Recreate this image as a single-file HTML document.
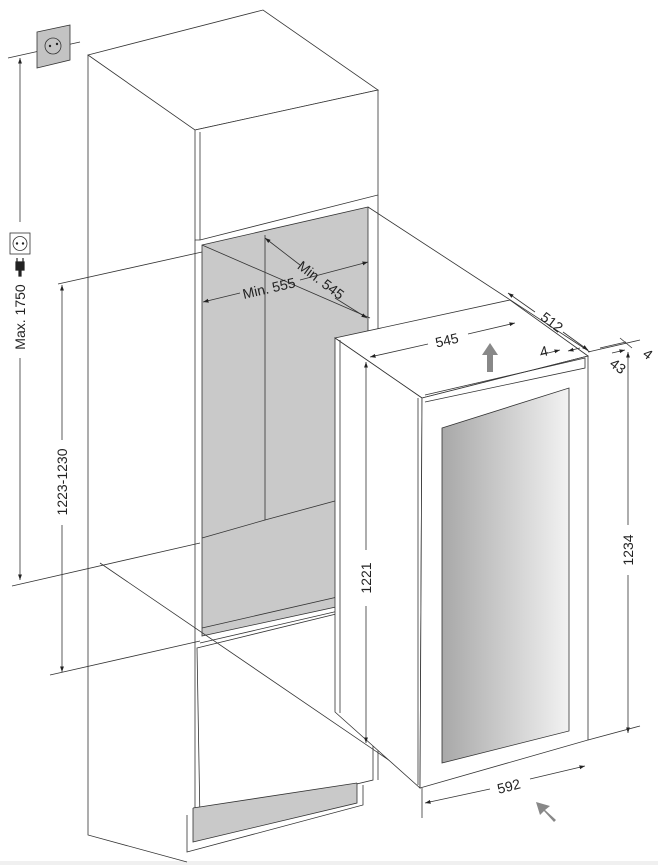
<!DOCTYPE html>
<html><head><meta charset="utf-8"><style>
html,body{margin:0;padding:0;background:#fff;}
svg{display:block;}
text{font-family:"Liberation Sans",sans-serif;font-size:14px;fill:#222;}
</style></head><body>
<svg width="658" height="865" viewBox="0 0 658 865" xmlns="http://www.w3.org/2000/svg">
<defs>
<marker id="a" viewBox="0 0 10 10" refX="10" refY="5" markerWidth="7" markerHeight="7" orient="auto-start-reverse"><path d="M0,1.5 L10,5 L0,8.5 z" fill="#222"/></marker>
<linearGradient id="g" x1="0" x2="1" y1="0" y2="0"><stop offset="0" stop-color="#a8a8a8"/><stop offset="1" stop-color="#f2f2f2"/></linearGradient>
</defs>
<rect x="0" y="861" width="658" height="4" fill="#f0f0f0"/>
<g fill="none" stroke="#333" stroke-width="0.8">
<path d="M88,55 L263,10 L378,90 L195,130 Z" fill="#fff"/>
<path d="M88,55 L88,835 L187,862"/>
<path d="M195,130 L378,90 L378,195 L200,240 L195,240 Z" fill="#fff"/>
<path d="M200,132 L200,240"/>
<path d="M195,240 L195,830"/>
<path d="M378,195 L378,780"/>
<path d="M202,245 L368,207 L368,600 L202,636 Z" fill="#c9c9c9"/>
<path d="M265,235 L265,520 L368,492"/>
<path d="M265,520 L202,538"/>
<path d="M202,628 L368,590"/>
<path d="M200,643 L373,603"/>
<path d="M197,648 L373,605 L373,780 L200,822 Z" fill="#fff"/>
<path d="M193,808 L193,842 L357,803 L357,783" fill="#c9c9c9"/>
<path d="M193,808 L357,783"/>
<path d="M187,815 L187,852 L363,805 L363,785"/>
<path d="M58,284 L202,252"/>
<path d="M12,586 L200,543"/>
<path d="M50,675 L200,641"/>
<path d="M100,563 L418,780"/>
<path d="M202,245 L370,318"/>
<path d="M368,207 L590,352"/>
<path d="M8,58 L80,42"/>
<path d="M37,32 L70,25 L70,60 L37,68 Z" fill="#c3c3c3"/>
<circle cx="53" cy="46" r="8" fill="#c3c3c3"/>
<path d="M335,338 L510,300 L588,356 L422,398 Z" fill="#fff"/>
<path d="M335,338 L335,712 L420,788 L422,398 Z" fill="#fff"/>
<path d="M422,398 L588,356 L588,740 L420,788 Z" fill="#fff"/>
<path d="M425,395 L585,358 L585,368 L425,402"/>
<path d="M418,398 L418,785"/>
<path d="M442,428 L569,388 L569,731 L442,763 Z" fill="url(#g)"/>
<path d="M340,713 L340,340"/>
<path d="M20,58 L20,222" marker-start="url(#a)"/>
<path d="M20,358 L20,580" marker-end="url(#a)"/>
<path d="M62,285 L62,440" marker-start="url(#a)"/>
<path d="M62,525 L62,672" marker-end="url(#a)"/>
<path d="M366,362 L366,550" marker-start="url(#a)"/>
<path d="M366,606 L366,743" marker-end="url(#a)"/>
<path d="M628,352 L628,525" marker-start="url(#a)"/>
<path d="M628,575 L628,733" marker-end="url(#a)"/>
<path d="M588,740 L640,726"/>
<path d="M588,352 L640,340"/>
<path d="M422,788 L422,818"/>
<path d="M425,803 L490,789" marker-start="url(#a)"/>
<path d="M530,779 L585,766" marker-end="url(#a)"/>
<path d="M370,357 L428,344" marker-start="url(#a)"/>
<path d="M468,334 L515,323" marker-end="url(#a)"/>
<path d="M508,293 L535,312" marker-start="url(#a)"/>
<path d="M563,332 L588,350" marker-end="url(#a)"/>
<path d="M203,302 L240,293" marker-start="url(#a)"/>
<path d="M300,280 L368,262" marker-end="url(#a)"/>
<path d="M265,238 L300,265" marker-start="url(#a)"/>
<path d="M335,298 L367,318" marker-end="url(#a)"/>
<path d="M540,355 L560,350" marker-end="url(#a)"/>
<path d="M580,348 L568,351" marker-end="url(#a)"/>
<path d="M600,348 L626,342"/>
<path d="M612,353 L625,350" marker-end="url(#a)"/>
<path d="M620,338 L632,348"/>
</g>
<path d="M487,372 L487,355 L482,355 L490,343 L498,355 L493,355 L493,372 Z" fill="#888"/>
<path d="M556,820 L545,810 L550,806 L536,802 L540,815 L544,811 L554,822 Z" fill="#888"/>
<rect x="10" y="233" width="20" height="21" fill="#fff" stroke="#333" stroke-width="0.8"/>
<circle cx="20" cy="243.5" r="7" fill="none" stroke="#333" stroke-width="0.8"/>
<circle cx="17" cy="243.5" r="1.2" fill="#222"/><circle cx="23" cy="243.5" r="1.2" fill="#222"/>
<path d="M16,262 L24,262 L24,270 L21,270 L21,276 L19,276 L19,270 L16,270 Z M17,258 L17,262 M23,258 L23,262" fill="#222" stroke="#222" stroke-width="1.2"/>
<circle cx="50" cy="46" r="1.2" fill="#222"/><circle cx="57" cy="44" r="1.2" fill="#222"/>
<text transform="translate(25,317) rotate(-90)" text-anchor="middle">Max. 1750</text>
<text transform="translate(67,482) rotate(-90)" text-anchor="middle">1223-1230</text>
<text transform="translate(371,578) rotate(-90)" text-anchor="middle">1221</text>
<text transform="translate(633,550) rotate(-90)" text-anchor="middle">1234</text>
<text transform="translate(510,791) rotate(-14)" text-anchor="middle">592</text>
<text transform="translate(448,345) rotate(-13)" text-anchor="middle">545</text>
<text transform="translate(549,326) rotate(37)" text-anchor="middle">512</text>
<text transform="translate(270,293) rotate(-13)" text-anchor="middle">Min. 555</text>
<text transform="translate(318,284) rotate(37)" text-anchor="middle">Min. 545</text>
<text transform="translate(545,356) rotate(-13)" text-anchor="middle" font-size="13">4</text>
<text transform="translate(615,370) rotate(37)" text-anchor="middle" font-size="13">43</text>
<text transform="translate(645,358) rotate(37)" text-anchor="middle" font-size="13">4</text>
</svg>
</body></html>
